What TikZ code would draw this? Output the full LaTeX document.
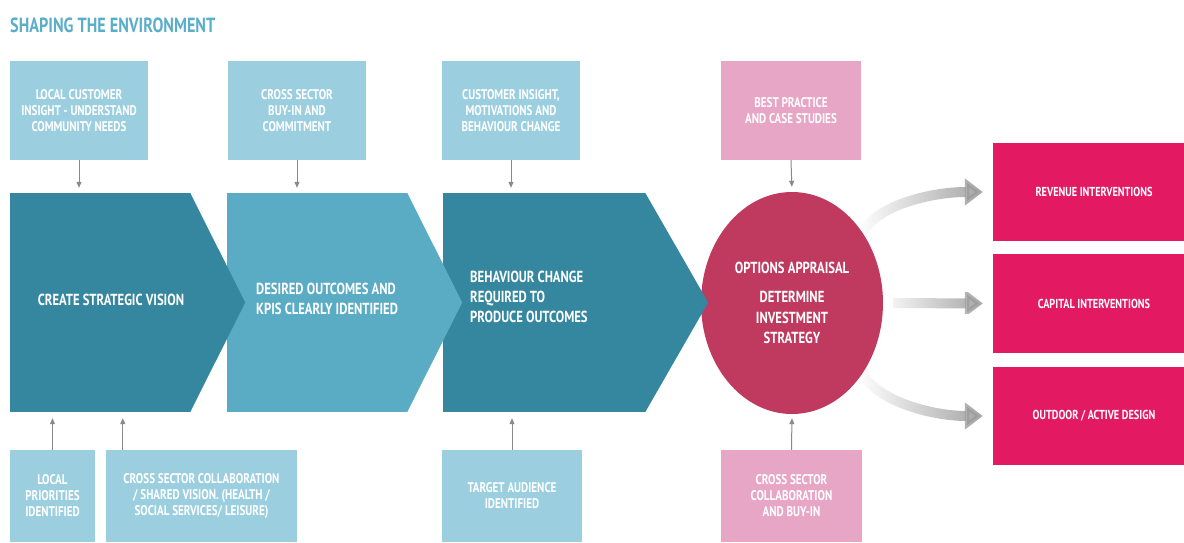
\documentclass[tikz,border=0pt]{standalone}
\usepackage{fontspec}
\setmainfont{PT Sans}[FakeStretch=0.79]
\usetikzlibrary{shapes.geometric}
\usetikzlibrary{arrows.meta}
\usetikzlibrary{calc}
\usetikzlibrary{fadings}
\definecolor{titleblue}{HTML}{5BAEC9}
\definecolor{boxblue}{HTML}{9BCFE0}
\definecolor{boxpink}{HTML}{E8A6C6}
\definecolor{teald}{HTML}{35879F}
\definecolor{tealm}{HTML}{5AABC4}
\definecolor{circred}{HTML}{C0395F}
\definecolor{hotpink}{HTML}{E31A62}
\definecolor{linkgray}{HTML}{8A8A8A}
\definecolor{fadegray}{HTML}{9A9A9A}
\tikzfading[name=fade in, left color=transparent!100, right color=transparent!0]

\begin{document}
\begin{tikzpicture}[x=1pt, y=-1pt,
    box/.style={fill=boxblue, text=white, align=center, inner sep=2,
        font=\bfseries\fontsize{14}{16}\selectfont},
    pinkbox/.style={box, fill=boxpink},
    chev/.style={inner sep=0, minimum width=180, minimum height=219},
    chevtext/.style={text=white, align=left, inner sep=0,
        font=\bfseries\fontsize{16}{20}\selectfont},
    outbox/.style={fill=hotpink, text=white, inner sep=0, minimum width=202,
        font=\bfseries\fontsize{13}{15}\selectfont},
    link/.style={draw=linkgray, line width=1, -{Triangle[length=6,width=5]}},
    fadearrow/.style={draw=fadegray, line width=10, path fading=fade in,
        -{Triangle[length=18,width=26]}, shorten >=10}]
    \useasboundingbox (0, 0) rectangle (1184, 542);

    \node[anchor=west, text=titleblue, inner sep=0, font=\bfseries\fontsize{20.5}{24}\selectfont]
        (title) at (10, 25) {SHAPING THE ENVIRONMENT};

    % inputs along the top
    \node[box, minimum width=138, minimum height=99] (insight) at (79, 110.5)
        {LOCAL CUSTOMER\\INSIGHT - UNDERSTAND\\COMMUNITY NEEDS};
    \node[box, minimum width=138, minimum height=99] (buyin) at (297, 110.5)
        {CROSS SECTOR\\BUY-IN AND\\COMMITMENT};
    \node[box, minimum width=138, minimum height=99] (motiv) at (511, 110.5)
        {CUSTOMER INSIGHT,\\MOTIVATIONS AND\\BEHAVIOUR CHANGE};
    \node[pinkbox, minimum width=140, minimum height=99] (bestp) at (791, 110.5)
        {BEST PRACTICE\\AND CASE STUDIES};

    % inputs along the bottom
    \node[box, minimum width=85, minimum height=92] (local) at (52.5, 496)
        {LOCAL\\PRIORITIES\\IDENTIFIED};
    \node[box, minimum width=191, minimum height=92] (collab) at (201.5, 496)
        {CROSS SECTOR COLLABORATION\\/ SHARED VISION. (HEALTH /\\SOCIAL SERVICES/ LEISURE)};
    \node[box, minimum width=140, minimum height=92] (target) at (512, 496)
        {TARGET AUDIENCE\\IDENTIFIED};
    \node[pinkbox, minimum width=141, minimum height=92] (collabp) at (791.5, 496)
        {CROSS SECTOR\\COLLABORATION\\AND BUY-IN};

    % appraisal
    \node[ellipse, fill=circred, inner sep=0, minimum width=182, minimum height=222,
        text=white, align=center, font=\bfseries\fontsize{16}{20.5}\selectfont]
        (opt) at (792, 303) {OPTIONS APPRAISAL\\[9pt]DETERMINE\\INVESTMENT\\STRATEGY};

    % chevrons, last one first so each tip sits on top
    \node[chev, fill=teald, minimum width=202] (behav) at (544, 302.5) {};
    \fill[teald] (behav.north east) -- ($(behav.east)+(63, 0)$) -- (behav.south east) -- cycle;
    \node[chevtext, anchor=west] (behavtxt) at (470, 297)
        {BEHAVIOUR CHANGE\\REQUIRED TO\\PRODUCE OUTCOMES};

    \node[chev, fill=tealm] (kpis) at (317, 302.5) {};
    \fill[tealm] (kpis.north east) -- ($(kpis.east)+(55, 0)$) -- (kpis.south east) -- cycle;
    \node[chevtext, anchor=west] (kpistxt) at (256, 299)
        {DESIRED OUTCOMES AND\\KPIS CLEARLY IDENTIFIED};

    \node[chev, fill=teald] (vision) at (100, 302.5) {};
    \fill[teald] (vision.north east) -- ($(vision.east)+(55, 0)$) -- (vision.south east) -- cycle;
    \node[chevtext] (visiontxt) at (111, 300) {CREATE STRATEGIC VISION};

    % outcomes, running off the right edge
    \node[outbox, minimum height=98] (rev) at (1094, 192) {REVENUE INTERVENTIONS};
    \node[outbox, minimum height=99] (cap) at (1094, 303.5) {CAPITAL INTERVENTIONS};
    \node[outbox, minimum height=98] (out) at (1094, 416) {OUTDOOR / ACTIVE DESIGN};

    % connectors
    \draw[link, shorten >=5] (insight.south) -- (insight.south |- vision.north);
    \draw[link, shorten >=5] (buyin.south) -- (buyin.south |- kpis.north);
    \draw[link, shorten >=5] (motiv.south) -- (motiv.south |- behav.north);
    \draw[link, shorten >=5] (bestp.south) -- (opt.north);
    \draw[link, shorten >=6] (local.north) -- (local.north |- vision.south);
    \draw[link, shorten >=6] ([xshift=17]collab.north west) -- ([xshift=17]collab.north west |- vision.south);
    \draw[link, shorten >=6] (target.north) -- (target.north |- behav.south);
    \draw[link, shorten >=4] (collabp.north) -- (opt.south);

    \draw[fadearrow] (opt.45) .. controls +(15, -28) and +(-60, 0) .. (rev.west);
    \draw[fadearrow, shorten <=10] (opt.east) -- (cap.west);
    \draw[fadearrow] (opt.-45) .. controls +(15, 28) and +(-60, 0) .. (out.west);
\end{tikzpicture}
\end{document}
